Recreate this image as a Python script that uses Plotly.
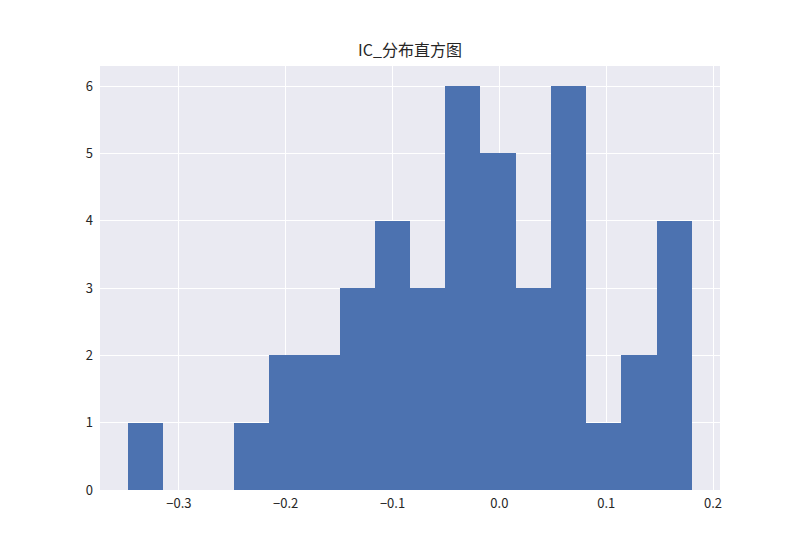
import plotly.graph_objects as go

# histogram IC
bin_left = [-0.3474, -0.3144, -0.2815, -0.2485, -0.2155, -0.1826, -0.1496, -0.1166,
            -0.0836, -0.0507, -0.0177, 0.0153, 0.0482, 0.0812, 0.1142, 0.1471]
bin_width = 0.03297
counts = [1, 0, 0, 1, 2, 2, 3, 4, 3, 6, 5, 3, 6, 1, 2, 4]

x_ticks = [-0.3, -0.2, -0.1, 0.0, 0.1, 0.2]
x_labels = ["\u22120.3", "\u22120.2", "\u22120.1", "0.0", "0.1", "0.2"]
y_ticks = [0, 1, 2, 3, 4, 5, 6]

font_name = "Noto Sans CJK SC, DejaVu Sans, sans-serif"

fig = go.Figure()
fig.add_trace(go.Bar(
    x=bin_left, y=counts, width=[bin_width] * len(counts), offset=0,
    marker=dict(color="#4C72B0", line=dict(width=0)),
    showlegend=False
))

# stránka má okraj 8 px, proto jsou okraje posunuté
fig.update_layout(
    width=800, height=550,
    margin=dict(l=92, r=88, t=58, b=68),
    paper_bgcolor="white",
    plot_bgcolor="#EAEAF2",
    bargap=0,
    font=dict(family=font_name, size=13, color="#262626"),
    title=dict(text="IC_分布直方图", x=0.5025, xanchor="center",
               y=1 - 42 / 550, yanchor="middle",
               font=dict(family=font_name, size=16, color="#262626")),
)

fig.update_xaxes(
    range=[-0.3738, 0.2065],
    tickvals=x_ticks, ticktext=x_labels,
    showgrid=True, gridcolor="white", gridwidth=1.4,
    zeroline=False, showline=False, ticks="", ticklabelstandoff=4,
)
fig.update_yaxes(
    range=[0, 6.3],
    tickvals=y_ticks,
    showgrid=True, gridcolor="white", gridwidth=1.4,
    zeroline=False, showline=False, ticks="", ticklabelstandoff=6,
)

fig.write_html("out.html")
